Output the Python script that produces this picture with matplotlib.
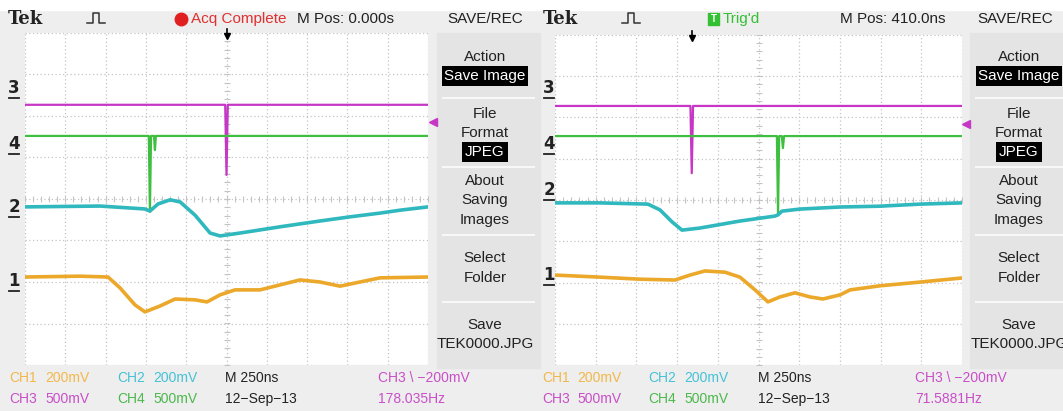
import numpy as np
import matplotlib.pyplot as plt
from matplotlib.patches import Rectangle

# ----- tamano de la figura (pixeles) -----
W, H = 1063, 411

ns_div = 250
mpos_a = 0.0      # M Pos 0.000s
mpos_b = 410.0    # M Pos 410.0ns

# pantalla izquierda
a_ch3_t = [-1250, -8, 0, 8, 1250]
a_ch3_v = [2.27, 2.27, 0.58, 2.27, 2.27]
a_ch4_t = [-1250, -482, -475, -468, -450, -444, -438, 1250]
a_ch4_v = [1.52, 1.52, -0.31, 1.52, 1.52, 1.18, 1.52, 1.52]
a_ch2_t = [-1250, -785, -506, -475, -425, -350, -288, -195, -102, -40, 84, 332, 580, 766, 952, 1076, 1250]
a_ch2_v = [-0.19, -0.17, -0.24, -0.29, -0.12, -0.02, -0.07, -0.39, -0.82, -0.89, -0.82, -0.67, -0.53, -0.43, -0.34, -0.27, -0.19]
a_ch1_t = [-1250, -909, -735, -661, -568, -506, -413, -319, -195, -121, -40, 53, 208, 332, 456, 580, 704, 828, 952, 1250]
a_ch1_v = [-1.88, -1.86, -1.88, -2.14, -2.55, -2.72, -2.58, -2.41, -2.43, -2.48, -2.31, -2.19, -2.19, -2.07, -1.95, -2.0, -2.10, -2.0, -1.90, -1.88]

# pantalla derecha
b_ch3_t = [-840, -8, 0, 8, 1660]
b_ch3_v = [2.28, 2.28, 0.65, 2.28, 2.28]
b_ch4_t = [-840, 523, 530, 537, 553, 560, 567, 1660]
b_ch4_v = [1.55, 1.55, -0.36, 1.55, 1.55, 1.26, 1.55, 1.55]
b_ch2_t = [-840, -564, -269, -195, -121, -60, 50, 296, 511, 530, 554, 665, 911, 1156, 1402, 1660]
b_ch2_v = [-0.07, -0.07, -0.10, -0.24, -0.53, -0.73, -0.68, -0.51, -0.39, -0.36, -0.27, -0.22, -0.17, -0.15, -0.10, -0.07]
b_ch1_t = [-840, -564, -318, -103, -11, 81, 204, 296, 389, 468, 542, 634, 726, 806, 911, 972, 1156, 1402, 1660]
b_ch1_v = [-1.82, -1.87, -1.92, -1.94, -1.82, -1.72, -1.75, -1.87, -2.18, -2.47, -2.35, -2.25, -2.35, -2.40, -2.30, -2.18, -2.08, -1.99, -1.89]

# ----- colores de los canales -----
NARANJA = '#eba82a'
CIAN = '#2fb8be'
MAGENTA = '#c637c6'
VERDE = '#3fbf3f'
FUENTE = ['Liberation Sans Narrow', 'Liberation Sans', 'DejaVu Sans']

fig = plt.figure(figsize=(W / 100, H / 100), dpi=100, facecolor='#eeeeee')
bg = fig.add_axes([0, 0, 1, 1])
bg.set_xlim(0, W)
bg.set_ylim(H, 0)
bg.axis('off')

bg.add_patch(Rectangle((0, 0), W, 10, color='white', zorder=0))


def pantalla(px0, py0, px1, py1, mpos, trazos):
    ax = fig.add_axes([px0 / W, (H - py1) / H, (px1 - px0) / W, (py1 - py0) / H])
    t0 = mpos - 5 * ns_div
    ax.set_xlim(t0, t0 + 10 * ns_div)
    ax.set_ylim(-4, 4)
    ax.set_facecolor('white')
    ax.set_xticks([t0 + k * ns_div for k in range(11)])
    ax.set_yticks(range(-4, 5))
    ax.grid(True, color='#c4c4c4', linestyle=(0, (1, 2)), linewidth=0.9)
    ax.tick_params(length=0, labelbottom=False, labelleft=False)
    for s in ax.spines.values():
        s.set_visible(False)
    # marcas del eje central
    sub = np.arange(-4, 4.01, 0.2)
    ax.plot(np.full(sub.size, mpos), sub, ls='none', marker='_', ms=4, color='#c4c4c4', mew=0.8)
    subt = t0 + np.arange(0, 10.01, 0.2) * ns_div
    ax.plot(subt, np.zeros(subt.size), ls='none', marker='|', ms=4, color='#c4c4c4', mew=0.8)
    for t, v, c, lw in trazos:
        ax.plot(t, v, color=c, lw=lw, solid_joinstyle='round')
    # posicion del disparo
    ax.plot([0], [3.93], marker='v', color='black', ms=5, clip_on=False)
    ax.plot([0, 0], [3.93, 4.1], color='black', lw=1.2, clip_on=False)
    return ax


pantalla(25, 33, 428, 365, mpos_a, [
    (a_ch3_t, a_ch3_v, MAGENTA, 1.6),
    (a_ch4_t, a_ch4_v, VERDE, 1.6),
    (a_ch2_t, a_ch2_v, CIAN, 2.6),
    (a_ch1_t, a_ch1_v, NARANJA, 2.6),
])
pantalla(555, 35, 962, 365, mpos_b, [
    (b_ch3_t, b_ch3_v, MAGENTA, 1.6),
    (b_ch4_t, b_ch4_v, VERDE, 1.6),
    (b_ch2_t, b_ch2_v, CIAN, 2.6),
    (b_ch1_t, b_ch1_v, NARANJA, 2.6),
])


def encabezado(x0, modo, mpos_txt, menu_x):
    bg.text(x0 + 8, 19, 'Tek', family='DejaVu Serif', weight='bold', fontsize=13, va='center', color='#222222')
    px = x0 + 87
    bg.plot([px, px + 6, px + 6, px + 12, px + 12, px + 18], [23, 23, 13, 13, 23, 23], color='#333333', lw=1.1)
    if modo == 'acq':
        bg.plot([x0 + 181], [19], 'o', color='#e02020', ms=9)
        bg.text(x0 + 191, 19, 'Acq Complete', color='#e03030', family=FUENTE, fontsize=11, va='center')
        bg.text(x0 + 297, 19, mpos_txt, color='#222222', family=FUENTE, fontsize=11, va='center')
    else:
        bg.add_patch(Rectangle((x0 + 173, 13), 11, 12, color='#33c033'))
        bg.text(x0 + 178.5, 19, 'T', color='white', family=FUENTE, fontsize=7, weight='bold', ha='center', va='center')
        bg.text(x0 + 188, 19, "Trig'd", color='#33c033', family=FUENTE, fontsize=11, va='center')
        bg.text(x0 + 305, 19, mpos_txt, color='#222222', family=FUENTE, fontsize=11, va='center')
    bg.text(menu_x, 19, 'SAVE/REC', color='#222222', family=FUENTE, fontsize=11, ha='center', va='center')


def menu(x0, x1, cx):
    bg.add_patch(Rectangle((x0, 33), x1 - x0, 335, color='#e4e4e4', zorder=0))
    for ys in [98, 167, 235, 302]:
        bg.plot([x0 + 6, x1 - 6], [ys, ys], color='#f8f8f8', lw=1.5)
    kw = dict(family=FUENTE, fontsize=11, ha='center', va='center', color='#222222')
    bg.text(cx, 57, 'Action', **kw)
    bg.text(cx, 76, 'Save Image', **kw, bbox=dict(fc='black', ec='none', pad=2)).set_color('white')
    bg.text(cx, 114, 'File', **kw)
    bg.text(cx, 133, 'Format', **kw)
    bg.text(cx, 152, 'JPEG', **kw, bbox=dict(fc='black', ec='none', pad=2)).set_color('white')
    bg.text(cx, 181, 'About', **kw)
    bg.text(cx, 200, 'Saving', **kw)
    bg.text(cx, 220, 'Images', **kw)
    bg.text(cx, 258, 'Select', **kw)
    bg.text(cx, 278, 'Folder', **kw)
    bg.text(cx, 325, 'Save', **kw)
    bg.text(cx, 344, 'TEK0000.JPG', **kw)


def lecturas(xs, freq):
    # xs: columnas CHx, valor, CHy, valor, base de tiempo, disparo
    kw = dict(family=FUENTE, fontsize=10, va='center')
    bg.text(xs[0], 378, 'CH1', color='#f2b84a', **kw)
    bg.text(xs[1], 378, '200mV', color='#f2b84a', **kw)
    bg.text(xs[2], 378, 'CH2', color='#45c2d6', **kw)
    bg.text(xs[3], 378, '200mV', color='#45c2d6', **kw)
    bg.text(xs[4], 378, 'M 250ns', color='#222222', **kw)
    bg.text(xs[5], 378, 'CH3 \\ \u2212200mV', color='#c94fc9', **kw)
    bg.text(xs[0], 399, 'CH3', color='#c94fc9', **kw)
    bg.text(xs[1], 399, '500mV', color='#c94fc9', **kw)
    bg.text(xs[2], 399, 'CH4', color='#4cb84c', **kw)
    bg.text(xs[3], 399, '500mV', color='#4cb84c', **kw)
    bg.text(xs[4], 399, '12\u2212Sep\u221213', color='#222222', **kw)
    bg.text(xs[5], 399, freq, color='#c94fc9', **kw)


def etiquetas(x, ys):
    for n, y in zip(['3', '4', '2', '1'], ys):
        bg.text(x, y, n, family='DejaVu Sans', weight='bold', fontsize=12, ha='center', va='center', color='#222222')
        bg.plot([x - 5, x + 5], [y + 10, y + 10], color='#222222', lw=1.3)


encabezado(0, 'acq', 'M Pos: 0.000s', 485)
encabezado(535, 'trig', 'M Pos: 410.0ns', 1015)
menu(437, 540, 485)
menu(970, 1070, 1019)
lecturas([9, 45, 117, 153, 225, 378], '178.035Hz')
lecturas([542, 577, 648, 684, 758, 915], '71.5881Hz')
etiquetas(14, [88, 144, 207, 281])
etiquetas(549, [88, 144, 190, 275])

# nivel de disparo (flecha magenta)
bg.plot([433], [122], marker='<', color=MAGENTA, ms=6)
bg.plot([966], [124], marker='<', color=MAGENTA, ms=6)

fig.savefig('out.png', dpi=100, facecolor=fig.get_facecolor())
